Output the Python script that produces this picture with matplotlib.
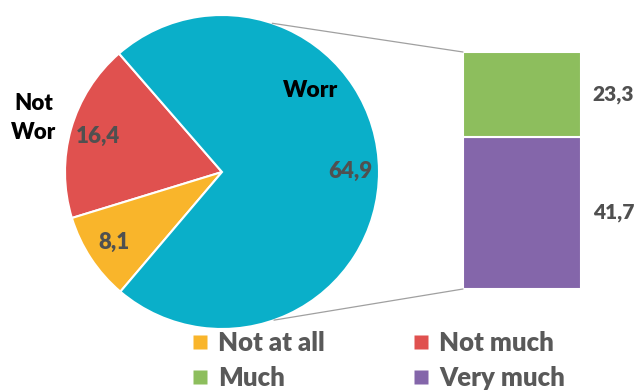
import numpy as np
import matplotlib
matplotlib.use("Agg")
import matplotlib.pyplot as plt
from matplotlib.patches import ConnectionPatch
from matplotlib.lines import Line2D

plt.rcParams['font.family'] = ['Lato', 'DejaVu Sans']

# Pie: worry level
pie_labels = ["Not much", "Not at all", "Worr"]
pie_values = [16.4, 8.1, 64.9]
pie_colors = ["#E0514F", "#F9B52B", "#0AAFC9"]

# Breakdown of the "worried" share
bar_labels = ["Very much", "Much"]
bar_values = [41.7, 23.3]
bar_colors = ["#8466AA", "#8DBE5D"]

legend_order = ["Not at all", "Much", "Not much", "Very much"]
legend_colors = {"Not at all": "#F9B52B", "Not much": "#E0514F",
                 "Much": "#8DBE5D", "Very much": "#8466AA"}

WEIGHT = "heavy"

def fmt(v):
    return f"{v:.1f}".replace(".", ",")

W, H = 640, 390
fig = plt.figure(figsize=(W / 100, H / 100), dpi=100)

# pie axes
cx, cy, r = 222, H - 172, 157
ax1 = fig.add_axes([(cx - r) / W, (cy - r) / H, 2 * r / W, 2 * r / H])
wedges, _ = ax1.pie(pie_values, colors=pie_colors, startangle=131,
                    counterclock=True, radius=1,
                    wedgeprops=dict(edgecolor="white", linewidth=1.5))
ax1.set_xlim(-1, 1)
ax1.set_ylim(-1, 1)
ax1.set_aspect("equal")
ax1.axis("off")

def polar(w, dist):
    a = np.deg2rad((w.theta1 + w.theta2) / 2)
    return dist * np.cos(a), dist * np.sin(a)

for w, v in zip(wedges, pie_values):
    x, y = polar(w, 0.82)
    ax1.text(x, y, fmt(v), ha="center", va="center", fontsize=16,
             fontweight=WEIGHT, color="#505050")

# category labels
a = np.deg2rad(42.7)
ax1.text(0.77 * np.cos(a), 0.77 * np.sin(a), "Worr", ha="center", va="center",
         fontsize=16.5, fontweight=WEIGHT, color="black")
xr, yr = polar(wedges[0], 1.25)
ax1.text(xr, yr, "Not\nWor", ha="center", va="center", fontsize=16,
         fontweight=WEIGHT, color="black", linespacing=1.45)

# bar axes
bx0, bx1 = 463, 581
by_top, by_bot = 52, 289
ax2 = fig.add_axes([bx0 / W, (H - by_bot) / H, (bx1 - bx0) / W, (by_bot - by_top) / H])
bottom = 0
for lab, v, c in zip(bar_labels, bar_values, bar_colors):
    ax2.bar(0, v, width=1, bottom=bottom, color=c, edgecolor="white", linewidth=1.5)
    ax2.annotate(fmt(v), xy=(0.5, bottom + v / 2), xytext=(8.5, 0),
                 textcoords="offset points", ha="left", va="center",
                 fontsize=15, fontweight=WEIGHT, color="#505050",
                 annotation_clip=False)
    bottom += v
ax2.set_xlim(-0.5, 0.5)
ax2.set_ylim(0, sum(bar_values))
ax2.axis("off")

# connector lines from the worried wedge to the bar
mid = (wedges[2].theta1 + wedges[2].theta2) / 2
for dang, yb in [(71, sum(bar_values)), (-71, 0)]:
    a = np.deg2rad(mid + dang)
    con = ConnectionPatch(xyA=(np.cos(a), np.sin(a)), coordsA=ax1.transData,
                          xyB=(-0.5, yb), coordsB=ax2.transData,
                          color="#A0A0A0", linewidth=0.9)
    fig.add_artist(con)

handles = [Line2D([], [], marker="s", linestyle="none", markersize=9.5,
                  markerfacecolor=legend_colors[k], markeredgecolor="none")
           for k in legend_order]
fig.legend(handles, legend_order, ncol=2, loc="upper left",
           bbox_to_anchor=(190 / W, 1 - 331 / H), frameon=False,
           prop=dict(size=18.5, weight=WEIGHT), labelcolor="#595959",
           handletextpad=0.3, columnspacing=3.33, labelspacing=0.42,
           handlelength=0.8, borderpad=0, borderaxespad=0)

fig.savefig("out.png", dpi=100)
